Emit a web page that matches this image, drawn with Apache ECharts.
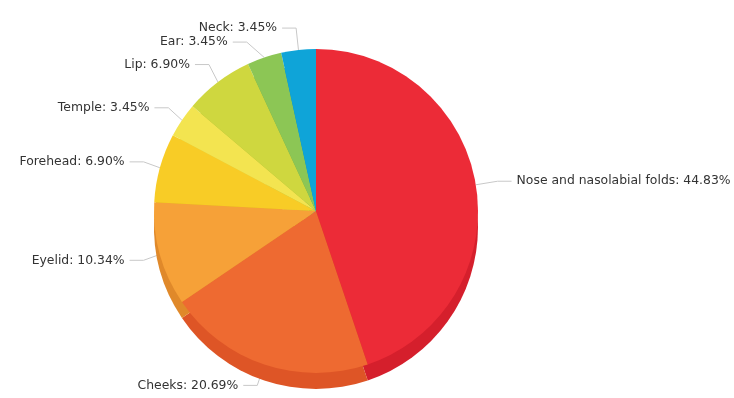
<!DOCTYPE html>
<html><head><meta charset="utf-8">
<script src="https://cdn.jsdelivr.net/npm/echarts@6/dist/echarts.min.js"></script>
<style>html,body{margin:0;padding:0;background:#fff}#c{width:734px;height:398px}</style>
</head><body><div id="c"></div>
<script>
const categories = ["Nose and nasolabial folds","Cheeks","Eyelid","Forehead","Temple","Lip","Ear","Neck"];
const values = [44.83,20.69,10.34,6.90,3.45,6.90,3.45,3.45];
const topColors = ["#ec2b37","#ee6a31","#f6a138","#f8cc26","#f3e450","#cfd73f","#8cc655","#0fa4d8"];
const sideColors = ["#d51f2c","#de5526","#e0892a","#e0b41c","#dccd3f","#b7bd33","#77ad45","#0b8cbc"];

const chart = echarts.init(document.getElementById('c'));
const center = [316, 211];
const r = 162;
chart.setOption({
  animation:false,
  series:[
    {type:'pie', silent:true, center:[center[0], center[1]+16], radius:r, startAngle:90, clockwise:true,
     label:{show:false}, labelLine:{show:false},
     data: categories.map((c,i)=>({name:c, value:values[i], itemStyle:{color:sideColors[i]}}))},
    {type:'pie', center:center, radius:r, startAngle:90, clockwise:true,
     label:{show:true, overflow:'none', formatter: p => p.name + ': ' + p.value.toFixed(2) + '%', fontFamily:'DejaVu Sans', fontSize:12.4, color:'#333'},
     labelLine:{show:true, length:22, length2:14, lineStyle:{color:'#c8c8c8', width:1}},
     data: categories.map((c,i)=>({name:c, value:values[i], itemStyle:{color:topColors[i]}}))}
  ]
});
</script></body></html>
